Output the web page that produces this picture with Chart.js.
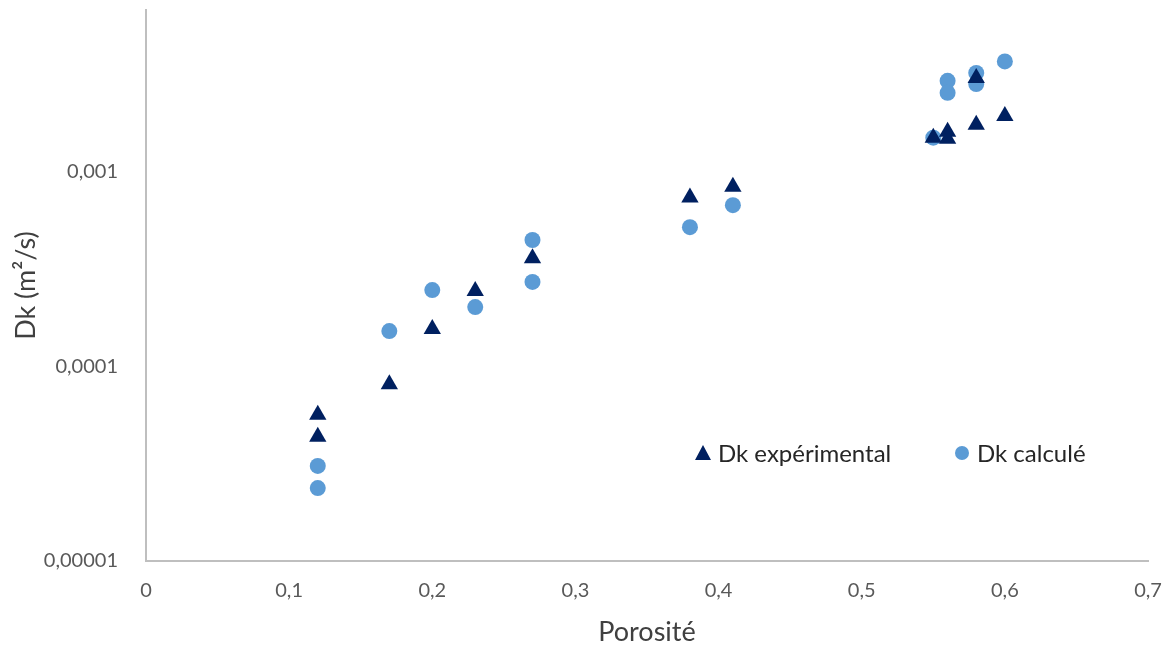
<!DOCTYPE html>
<html>
<head>
<meta charset="utf-8">
<script src="https://cdn.jsdelivr.net/npm/chart.js@4.4.0/dist/chart.umd.min.js"></script>
<style>
  html, body { margin: 0; padding: 0; background: #fff; }
  #wrap { width: 1169px; height: 648px; }
</style>
</head>
<body>
<div id="wrap"><canvas id="chart" width="1169" height="648"></canvas></div>
<script>
// Porosité (x) and Dk values
const expX = [0.12, 0.12, 0.17, 0.20, 0.23, 0.27, 0.38, 0.41, 0.55, 0.56, 0.56, 0.58, 0.58, 0.60];
const expY = [5.64e-5, 4.35e-5, 8.1e-5, 1.56e-4, 2.44e-4, 3.6e-4, 7.4e-4, 8.4e-4, 1.50e-3, 1.61e-3, 1.48e-3, 1.75e-3, 3.04e-3, 1.94e-3];

const calcX = [0.12, 0.12, 0.17, 0.20, 0.23, 0.27, 0.27, 0.38, 0.41, 0.55, 0.56, 0.56, 0.58, 0.58, 0.60];
const calcY = [3.08e-5, 2.37e-5, 1.52e-4, 2.47e-4, 2.02e-4, 4.47e-4, 2.72e-4, 5.2e-4, 6.75e-4, 1.50e-3, 2.94e-3, 2.55e-3, 3.23e-3, 2.83e-3, 3.7e-3];

const yTicks = [0.00001, 0.0001, 0.001];
const seriesNames = ['Dk expérimental', 'Dk calculé'];

const toPoints = (xs, ys) => xs.map((x, i) => ({ x: x, y: ys[i] }));
const fontFam = 'Lato, "Open Sans", sans-serif';

// legend drawn inside the plot area, like the original
const insideLegend = {
    id: 'insideLegend',
    afterDraw(chart) {
        const ctx = chart.ctx;
        const items = [
            { x: 703, label: seriesNames[0], style: 'triangle', color: '#002060' },
            { x: 962, label: seriesNames[1], style: 'circle', color: '#5B9BD5' }
        ];
        const y = 453;
        ctx.save();
        ctx.font = '24px ' + fontFam;
        ctx.textBaseline = 'middle';
        items.forEach(it => {
            ctx.fillStyle = it.color;
            ctx.beginPath();
            if (it.style === 'triangle') {
                ctx.moveTo(it.x, y - 8);
                ctx.lineTo(it.x + 8, y + 7);
                ctx.lineTo(it.x - 8, y + 7);
                ctx.closePath();
            } else {
                ctx.arc(it.x, y, 7, 0, Math.PI * 2);
            }
            ctx.fill();
            ctx.fillStyle = '#262626';
            ctx.fillText(it.label, it.x + 15, y + 1);
        });
        ctx.restore();
    }
};

new Chart(document.getElementById('chart').getContext('2d'), {
    type: 'scatter',
    data: {
        datasets: [
            {
                label: seriesNames[0],
                data: toPoints(expX, expY),
                pointStyle: 'triangle',
                pointRadius: 10,
                backgroundColor: '#002060',
                borderColor: '#002060',
                borderWidth: 0
            },
            {
                label: seriesNames[1],
                data: toPoints(calcX, calcY),
                pointStyle: 'circle',
                pointRadius: 8,
                backgroundColor: '#5B9BD5',
                borderColor: '#5B9BD5',
                borderWidth: 0
            }
        ]
    },
    options: {
        responsive: false,
        animation: false,
        layout: { padding: { top: 10, right: 21, left: 0, bottom: 0 } },
        plugins: {
            legend: { display: false },
            tooltip: { enabled: false }
        },
        scales: {
            x: {
                type: 'linear',
                min: 0,
                max: 0.7,
                ticks: {
                    stepSize: 0.1,
                    padding: 10,
                    color: '#595959',
                    font: { family: fontFam, size: 20 },
                    callback: v => (v === 0 ? '0' : v.toFixed(1).replace('.', ','))
                },
                grid: { display: false },
                border: { display: true, color: '#bfbfbf', width: 2 },
                title: {
                    display: true,
                    text: 'Porosité',
                    color: '#404040',
                    font: { family: fontFam, size: 27 },
                    padding: { top: 4, bottom: 0 }
                },
                afterFit: s => { s.height = 87; s.paddingLeft = 0; s.paddingRight = 0; }
            },
            y: {
                type: 'logarithmic',
                min: 0.00001,
                max: 0.0068,
                afterBuildTicks: s => { s.ticks = yTicks.map(v => ({ value: v })); },
                ticks: {
                    padding: 20,
                    color: '#595959',
                    font: { family: fontFam, size: 20 },
                    callback: v => v.toString().replace('.', ',')
                },
                grid: { display: false },
                border: { display: true, color: '#bfbfbf', width: 2 },
                title: {
                    display: true,
                    text: 'Dk (m²/s)',
                    color: '#404040',
                    font: { family: fontFam, size: 27 },
                    padding: { top: 10, bottom: 4 }
                },
                afterFit: s => { s.width = 146; s.paddingTop = 0; s.paddingBottom = 0; }
            }
        }
    },
    plugins: [insideLegend]
});
</script>
</body>
</html>
